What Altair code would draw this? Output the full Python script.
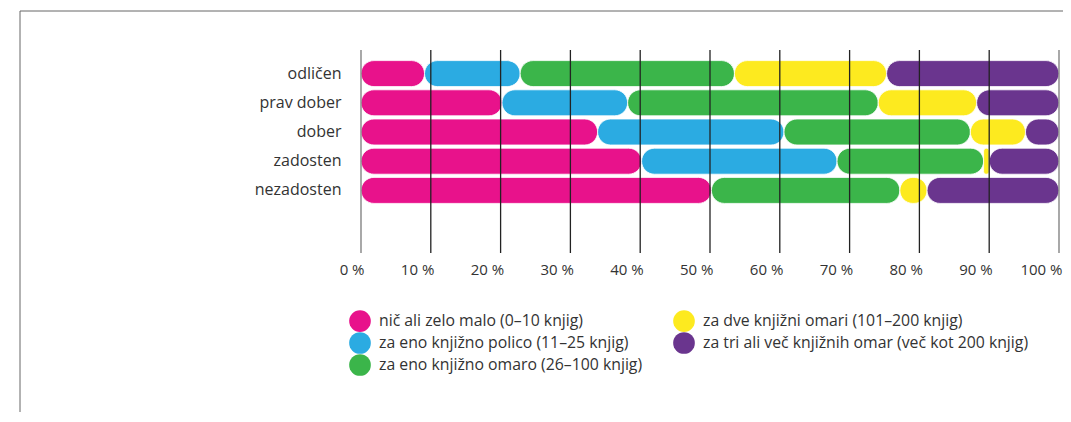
import altair as alt
import pandas as pd

grades = ["odličen", "prav dober", "dober", "zadosten", "nezadosten"]
groups = [
    "nič ali zelo malo (0–10 knjig)",
    "za eno knjižno polico (11–25 knjig)",
    "za eno knjižno omaro (26–100 knjig)",
    "za dve knjižni omari (101–200 knjig)",
    "za tri ali več knjižnih omar (več kot 200 knjig)",
]
colors = ["#E8128B", "#2BABE2", "#3BB54A", "#FDEA1F", "#6A358E"]

nic = [9.1, 20.2, 33.9, 40.2, 50.2]
polica = [13.7, 18.0, 26.7, 28.0, 0.0]
omara = [30.7, 35.9, 26.7, 21.0, 27.0]
dve = [21.8, 14.1, 7.9, 0.8, 3.9]
tri = [24.7, 11.8, 4.8, 10.0, 18.9]
series = [nic, polica, omara, dve, tri]

ticks = [0, 10, 20, 30, 40, 50, 60, 70, 80, 90, 100]

rows = []
for k, (g, vals) in enumerate(zip(groups, series)):
    for grade, v in zip(grades, vals):
        rows.append({"grade": grade, "group": g, "k": k, "value": v})
df = pd.DataFrame(rows)
tick_df = pd.DataFrame({"t": ticks})

FONT = "Open Sans"
TXT = "#333333"

xscale = alt.Scale(domain=[0, 100], nice=False)

bars = alt.Chart(df).transform_stack(
    stack="value", groupby=["grade"], as_=["x0", "x1"], sort=[alt.SortField("k", order="ascending")]
).transform_filter("datum.value > 0").mark_bar(cornerRadius=13, stroke="white", strokeWidth=0.8).encode(
    x=alt.X(
        "x0:Q",
        scale=xscale,
        axis=alt.Axis(
            values=ticks,
            title=None,
            grid=False,
            domain=False,
            ticks=False,
            labelFlush=False,
            labelAlign="right",
            labelOffset=3,
            labelPadding=12,
            labelExpr="datum.value + ' %'",
            labelFont=FONT,
            labelFontSize=15,
            labelColor=TXT,
        ),
    ),
    x2="x1:Q",
    y=alt.Y(
        "grade:N",
        sort=grades,
        scale=alt.Scale(domain=grades, range=[9, 155], paddingInner=0.11, paddingOuter=0.055),
        axis=alt.Axis(
            title=None,
            domain=False,
            ticks=False,
            labelPadding=20,
            labelFont=FONT,
            labelFontSize=16,
            labelColor=TXT,
        ),
    ),
    color=alt.Color(
        "group:N",
        scale=alt.Scale(domain=groups, range=colors),
        legend=alt.Legend(
            title=None,
            orient="none",
            legendX=-12,
            legendY=260,
            columns=2,
            symbolType="circle",
            symbolSize=470,
            symbolStrokeWidth=0,
            labelFont=FONT,
            labelFontSize=15.8,
            labelColor=TXT,
            labelOffset=8,
            rowPadding=0,
            columnPadding=30,
            labelLimit=500,
            padding=0,
        ),
    ),
)

grid = alt.Chart(tick_df).mark_rule(strokeWidth=1.3).encode(
    x=alt.X("t:Q", scale=xscale),
    y=alt.value(0),
    y2=alt.value(203),
    color=alt.condition("datum.t == 0 || datum.t == 100", alt.value("#7a7a7a"), alt.value("#222222")),
)

frame_top = alt.Chart(pd.DataFrame({"a": [0]})).mark_rule(color="#666666", strokeWidth=1).encode(
    x=alt.value(-341), x2=alt.value(720), y=alt.value(-39)
)
frame_left = alt.Chart(pd.DataFrame({"a": [0]})).mark_rule(color="#666666", strokeWidth=1).encode(
    x=alt.value(-341), y=alt.value(-39), y2=alt.value(400)
)

chart = alt.layer(bars, grid, frame_top, frame_left).properties(
    width=698,
    height=200,
    padding={"left": 353, "top": 42, "right": 4, "bottom": 162},
    autosize=alt.AutoSizeParams(type="none"),
).configure_view(stroke=None)

chart.save("out.html", embed_options={"renderer": "svg", "actions": False})
